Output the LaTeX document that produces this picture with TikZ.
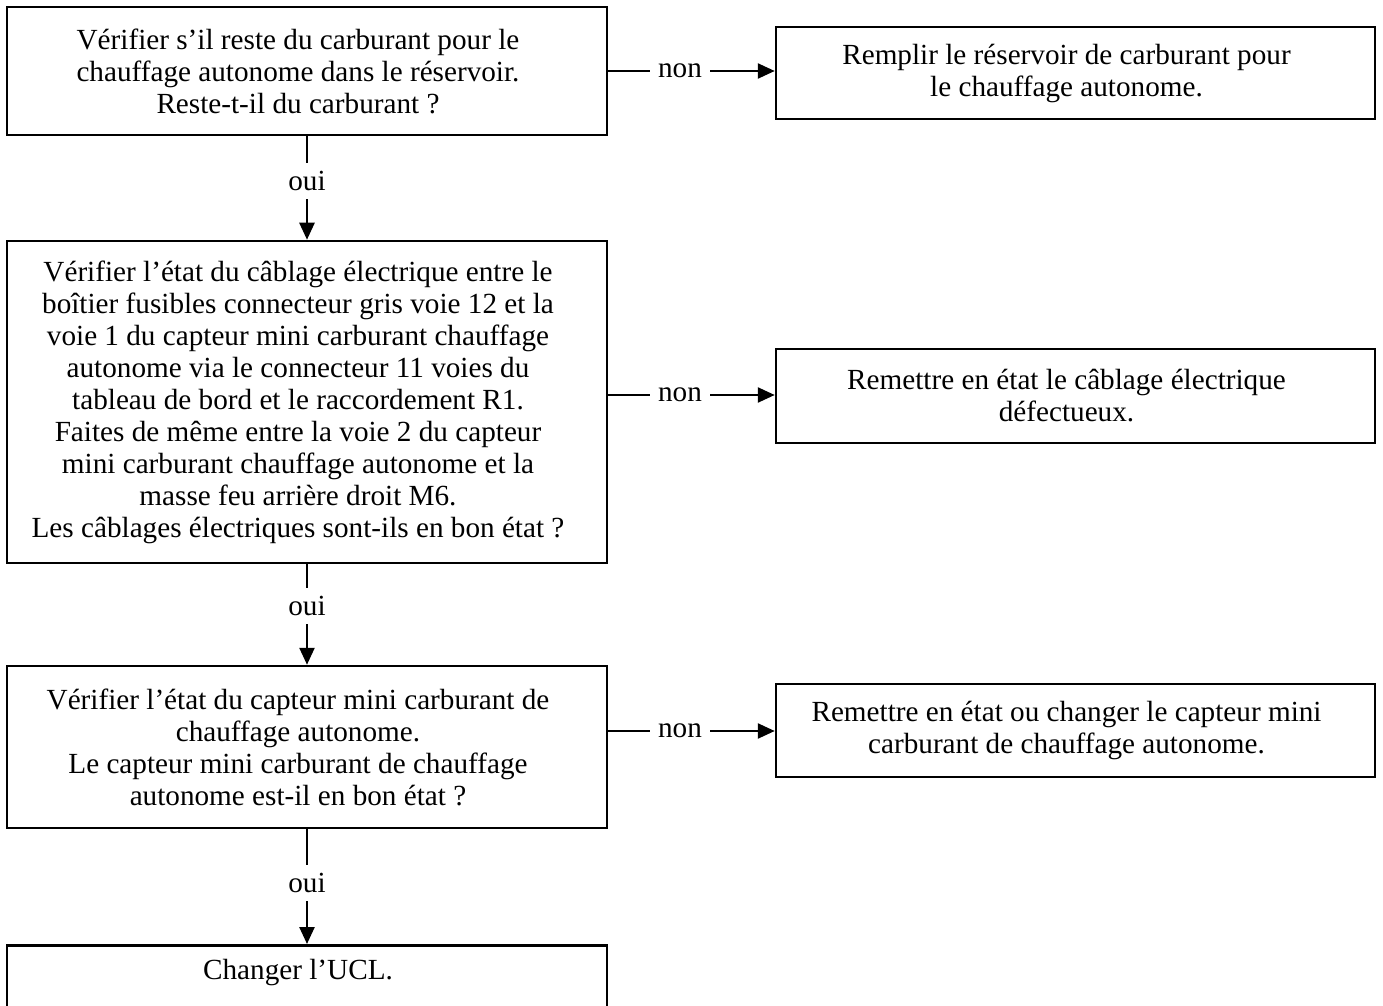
\documentclass[tikz,border=0pt]{standalone}
\usepackage{fontspec}
\setmainfont{Liberation Serif}
\usetikzlibrary{arrows.meta}
\begin{document}
\begin{tikzpicture}[x=0.5pt,y=-0.5pt,
  txt/.style={font=\fontsize{14.6}{16}\selectfont},
  intxt/.style={txt, align=center, inner sep=0pt, xshift=-4.5pt},
  box/.style={draw, line width=1.25pt, inner sep=0pt, minimum width=300pt},
  rbox/.style={box, minimum width=299.5pt},
  lbl/.style={txt, inner sep=4pt},
  conn/.style={line width=1.25pt},
  arr/.style={conn, -{Triangle[length=8.5pt,width=7.5pt]}}]
\clip (0,0) rectangle (1383,1006);
% left column
\node[box, minimum height=64pt, label={[intxt]center:{Vérifier s’il reste du carburant pour le\\chauffage autonome dans le réservoir.\\Reste-t-il du carburant ?}}] (b1) at (307,71) {};
\node[box, minimum height=161pt, label={[intxt]center:{Vérifier l’état du câblage électrique entre le\\boîtier fusibles connecteur gris voie 12 et la\\voie 1 du capteur mini carburant chauffage\\autonome via le connecteur 11 voies du\\tableau de bord et le raccordement R1.\\Faites de même entre la voie 2 du capteur\\mini carburant chauffage autonome et la\\masse feu arrière droit M6.\\Les câblages électriques sont-ils en bon état ?}}] (b2) at (307,402) {};
\node[box, minimum height=81pt, label={[intxt]center:{Vérifier l’état du capteur mini carburant de\\chauffage autonome.\\Le capteur mini carburant de chauffage\\autonome est-il en bon état ?}}] (b3) at (307,747) {};
\node[box, anchor=north, minimum height=60pt, label={[intxt, anchor=north, yshift=-7.5pt]north:{Changer l’UCL.}}] (b4) at (307,944) {};
% right column
\node[rbox, minimum height=46pt, label={[intxt]center:{Remplir le réservoir de carburant pour\\le chauffage autonome.}}] (r1) at (1075.5,73) {};
\node[rbox, minimum height=47pt, label={[intxt]center:{Remettre en état le câblage électrique\\défectueux.}}] (r2) at (1075.5,396) {};
\node[rbox, minimum height=46.5pt, label={[intxt]center:{Remettre en état ou changer le capteur mini\\carburant de chauffage autonome.}}] (r3) at (1075.5,730.5) {};
% labels
\node[lbl] (n1) at (680,71) {non};
\node[lbl] (n2) at (680,395) {non};
\node[lbl] (n3) at (680,731) {non};
\node[lbl] (o1) at (307,181) {oui};
\node[lbl] (o2) at (307,606) {oui};
\node[lbl] (o3) at (307,883) {oui};
% connectors
\draw[conn] (n1 -| b1.east) -- (n1.west);
\draw[arr] (n1.east) -- (n1 -| r1.west);
\draw[conn] (n2 -| b2.east) -- (n2.west);
\draw[arr] (n2.east) -- (n2 -| r2.west);
\draw[conn] (n3 -| b3.east) -- (n3.west);
\draw[arr] (n3.east) -- (n3 -| r3.west);
\draw[conn] (b1.south) -- (o1.north);
\draw[arr] (o1.south) -- (b2.north);
\draw[conn] (b2.south) -- (o2.north);
\draw[arr] (o2.south) -- (b3.north);
\draw[conn] (b3.south) -- (o3.north);
\draw[arr] (o3.south) -- (b4.north);
\end{tikzpicture}
\end{document}
